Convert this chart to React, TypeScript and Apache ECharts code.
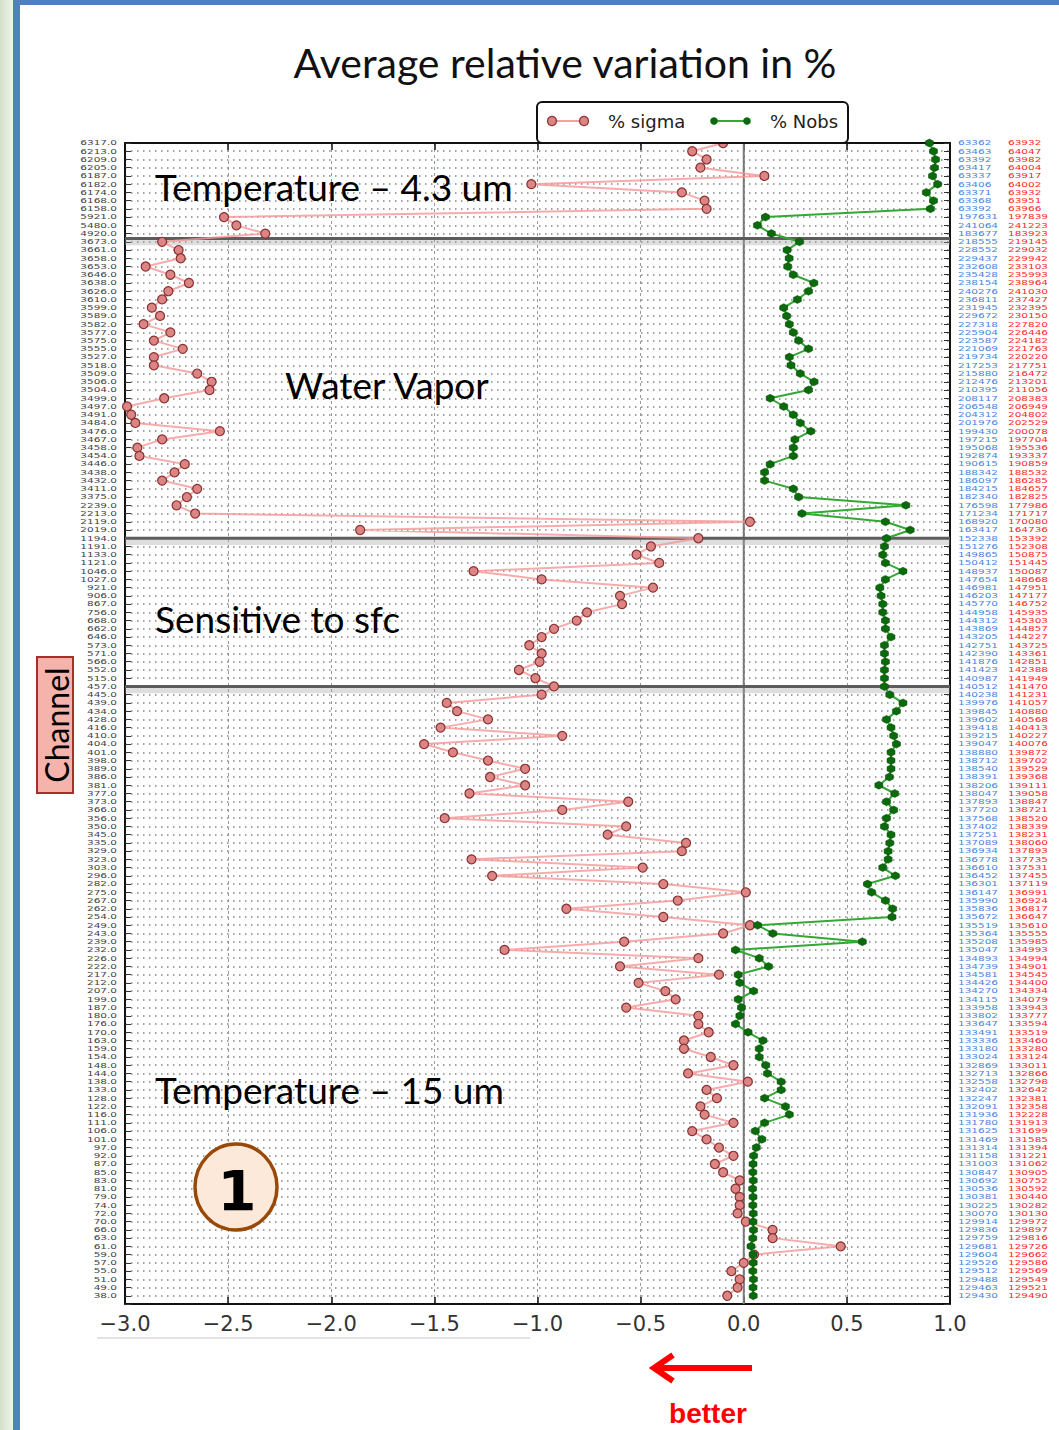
import React, { useEffect, useRef } from 'react';
import * as echarts from 'echarts';

// ---- channel numbers (top to bottom), grouped by band ----
const channelsT43 = [6317, 6213, 6209, 6205, 6187, 6182, 6174, 6168, 6158, 5921, 5480, 4920];
const channelsWV = [3673, 3661, 3658, 3653, 3646, 3638, 3626, 3610, 3599, 3589, 3582, 3577, 3575, 3555, 3527, 3518, 3509, 3506,
  3504, 3499, 3497, 3491, 3484, 3476, 3467, 3458, 3454, 3446, 3438, 3432, 3411, 3375, 2239, 2213, 2119, 2019];
const channelsSfc = [1194, 1191, 1133, 1121, 1046, 1027, 921, 906, 867, 756, 668, 662, 646, 573, 571, 566, 552, 515];
const channelsT15 = [457, 445, 439, 434, 428, 416, 410, 404, 401, 398, 389, 386, 381, 377, 373, 366, 356, 350, 345, 335,
  329, 323, 303, 296, 282, 275, 267, 262, 254, 249, 243, 239, 232, 226, 222, 217, 212, 207, 199, 187,
  180, 176, 170, 163, 159, 154, 148, 144, 138, 133, 128, 122, 116, 111, 106, 101, 97, 92, 87, 85,
  83, 81, 79, 74, 72, 70, 66, 63, 61, 59, 57, 55, 51, 49, 38];
const channels = [...channelsT43, ...channelsWV, ...channelsSfc, ...channelsT15];

// ---- % sigma (top to bottom) ----
const sigma = [
  -0.10, -0.25, -0.18, -0.21, 0.10, -1.03, -0.30, -0.19, -0.18, -2.52, -2.46, -2.32,
  -2.82, -2.74, -2.73, -2.90, -2.78, -2.69, -2.79, -2.82, -2.87, -2.83, -2.91, -2.78, -2.86, -2.72, -2.86, -2.86,
  -2.65, -2.58, -2.59, -2.81, -2.99, -2.97, -2.95, -2.54, -2.82, -2.94, -2.93, -2.71, -2.76, -2.82, -2.65, -2.70,
  -2.75, -2.66, 0.03, -1.86,
  -0.22, -0.45, -0.52, -0.41, -1.31, -0.98, -0.44, -0.60, -0.59, -0.76, -0.81, -0.92, -0.98, -1.04, -0.98, -0.99,
  -1.09, -1.01,
  -0.92, -0.98, -1.44, -1.39, -1.24, -1.47, -0.88, -1.55, -1.41, -1.24, -1.06, -1.23, -1.06, -1.33, -0.56, -0.88,
  -1.45, -0.57, -0.66, -0.28, -0.30, -1.32, -0.49, -1.22, -0.39, 0.01, -0.32, -0.86, -0.39, 0.03, -0.10, -0.58,
  -1.16, -0.22, -0.60, -0.12, -0.51, -0.38, -0.33, -0.57, -0.22, -0.22, -0.17, -0.29, -0.29, -0.16, -0.05, -0.27,
  0.02, -0.18, -0.13, -0.21, -0.19, -0.05, -0.25, -0.18, -0.12, -0.05, -0.14, -0.10, -0.02, -0.04, -0.02, -0.02,
  -0.03, 0.01, 0.14, 0.14, 0.47, 0.05, 0.00, -0.06, -0.02, -0.03, -0.08,
];

// ---- % Nobs (top to bottom) ----
const nobs = [
  0.90, 0.92, 0.93, 0.925, 0.915, 0.94, 0.885, 0.92, 0.905, 0.105, 0.066, 0.134,
  0.27, 0.21, 0.22, 0.213, 0.24, 0.34, 0.314, 0.26, 0.194, 0.208, 0.221, 0.24, 0.266, 0.314, 0.221, 0.229,
  0.274, 0.341, 0.314, 0.128, 0.194, 0.24, 0.274, 0.325, 0.248, 0.24, 0.24, 0.128, 0.101, 0.101, 0.24, 0.266,
  0.786, 0.282, 0.687, 0.807,
  0.692, 0.682, 0.674, 0.687, 0.772, 0.687, 0.66, 0.666, 0.674, 0.674, 0.687, 0.687, 0.714, 0.682, 0.682, 0.687,
  0.682, 0.682,
  0.682, 0.708, 0.772, 0.74, 0.692, 0.714, 0.727, 0.74, 0.714, 0.714, 0.714, 0.706, 0.655, 0.732, 0.692, 0.727,
  0.692, 0.682, 0.714, 0.708, 0.70, 0.70, 0.674, 0.735, 0.60, 0.62, 0.687, 0.722, 0.719, 0.067, 0.141, 0.575,
  -0.04, 0.075, 0.12, -0.027, -0.019, 0.048, -0.027, -0.011, -0.019, -0.04, 0.021, 0.093, 0.075, 0.075, 0.107, 0.115,
  0.181, 0.181, 0.101, 0.202, 0.221, 0.101, 0.056, 0.088, 0.061, 0.048, 0.045, 0.044, 0.046, 0.043, 0.045, 0.044,
  0.046, 0.045, 0.047, 0.044, 0.035, 0.045, 0.046, 0.044, 0.047, 0.045, 0.046,
];

// ---- number of observations, control run (blue column) ----
const countCtl = [
  63362, 63463, 63392, 63417, 63337, 63406, 63371, 63368, 63392, 197631, 241064, 183677,
  218555, 228552, 229437, 232608, 235428, 238154, 240276, 236811, 231945, 229672, 227318, 225904, 223587, 221069,
  219734, 217253, 215880, 212476, 210395, 208117, 206548, 204312, 201976, 199430, 197215, 195068, 192874, 190615,
  188342, 186097, 184215, 182340, 176598, 171234, 168920, 163417,
  152338, 151276, 149865, 150412, 148937, 147654, 146981, 146203, 145770, 144958, 144312, 143869, 143205, 142751,
  142390, 141876, 141423, 140987,
  140512, 140238, 139976, 139845, 139602, 139418, 139215, 139047, 138880, 138712, 138540, 138391, 138206, 138047,
  137893, 137720, 137568, 137402, 137251, 137089, 136934, 136778, 136610, 136452, 136301, 136147, 135990, 135836,
  135672, 135519, 135364, 135208, 135047, 134893, 134739, 134581, 134426, 134270, 134115, 133958, 133802, 133647,
  133491, 133336, 133180, 133024, 132869, 132713, 132558, 132402, 132247, 132091, 131936, 131780, 131625, 131469,
  131314, 131158, 131003, 130847, 130692, 130536, 130381, 130225, 130070, 129914, 129836, 129759, 129681, 129604,
  129526, 129512, 129488, 129463, 129430,
];
// experiment column: control count scaled by the plotted % Nobs
const countExp = countCtl.map((c, i) => Math.round(c * (1 + nobs[i] / 100)));

// section separators (row positions)
const sectionBreaks = [11.6, 48, 66];
const xTicks = { min: -3, max: 1, step: 0.5 };

const N = channels.length;

const fmtX = (v: number) => (v < 0 ? '\u2212' : '') + Math.abs(v).toFixed(1);

export default function App() {
  const ref = useRef<HTMLDivElement>(null);
  useEffect(() => {
    document.body.style.margin = '0';
    const chart = echarts.init(ref.current!, undefined, { renderer: 'svg' });

    const axisLineStyle = { color: '#111', width: 2 };
    const helperSeries: any[] = [];
    helperSeries.push({
      type: 'line', data: [[0, 0], [0, N]], symbol: 'none', silent: true, z: 1,
      lineStyle: { color: '#7a7a7a', width: 2 },
    });
    sectionBreaks.forEach((b) => {
      helperSeries.push({
        type: 'line', data: [[xTicks.min, b + 0.45], [xTicks.max, b + 0.45]], symbol: 'none', silent: true, z: 1,
        lineStyle: { color: 'rgba(160,160,160,0.35)', width: 6 },
      });
      helperSeries.push({
        type: 'line', data: [[xTicks.min, b], [xTicks.max, b]], symbol: 'none', silent: true, z: 1,
        lineStyle: { color: '#5c5c5c', width: 3 },
      });
    });

    const annFont = '37px Lato';
    const vm = { verticalAlign: 'middle', textVerticalAlign: 'middle' };
    const baseGraphic: any[] = [
      {
        type: 'rect', silent: true, z: 0, shape: { x: 0, y: 0, width: 13, height: 1430 },
        style: {
          fill: new echarts.graphic.LinearGradient(0, 0, 1, 0, [
            { offset: 0, color: '#d3e0cb' }, { offset: 1, color: '#eef3ea' },
          ]),
        },
      },
      { type: 'rect', silent: true, z: 0, shape: { x: 13, y: 0, width: 7, height: 1430 }, style: { fill: '#4f81bd' } },
      { type: 'rect', silent: true, z: 0, shape: { x: 13, y: 0, width: 1046, height: 5 }, style: { fill: '#4f81bd' } },
      {
        type: 'text', x: 565, y: 62, z: 10,
        style: { text: 'Average relative variation in %', font: '41px Lato', fill: '#111', align: 'center', textAlign: 'center', ...vm },
      },
      { type: 'rect', z: 50, shape: { x: 537, y: 102, width: 311, height: 41, r: 5 }, style: { fill: '#fff', stroke: '#111', lineWidth: 2 } },
      { type: 'line', z: 51, shape: { x1: 552, y1: 121, x2: 584, y2: 121 }, style: { stroke: 'rgba(246,150,150,0.9)', lineWidth: 2 } },
      { type: 'circle', z: 52, shape: { cx: 552, cy: 121, r: 4.5 }, style: { fill: '#dc8585', stroke: '#8a3030', lineWidth: 1.2 } },
      { type: 'circle', z: 52, shape: { cx: 584, cy: 121, r: 4.5 }, style: { fill: '#dc8585', stroke: '#8a3030', lineWidth: 1.2 } },
      { type: 'text', x: 608, y: 121, z: 52, style: { text: '% sigma', font: '18px "DejaVu Sans"', fill: '#222', align: 'left', ...vm } },
      { type: 'line', z: 51, shape: { x1: 714, y1: 121, x2: 747, y2: 121 }, style: { stroke: '#33a833', lineWidth: 2 } },
      { type: 'circle', z: 52, shape: { cx: 714, cy: 121, r: 3.8 }, style: { fill: '#0b6a0b' } },
      { type: 'circle', z: 52, shape: { cx: 747, cy: 121, r: 3.8 }, style: { fill: '#0b6a0b' } },
      { type: 'text', x: 770, y: 121, z: 52, style: { text: '% Nobs', font: '18px "DejaVu Sans"', fill: '#222', align: 'left', ...vm } },
      { type: 'text', x: 155, y: 186, z: 60, style: { text: 'Temperature \u2013 4.3 um', font: annFont, fill: '#000', ...vm } },
      { type: 'text', x: 285, y: 384, z: 60, style: { text: 'Water Vapor', font: annFont, fill: '#000', ...vm } },
      { type: 'text', x: 155, y: 618, z: 60, style: { text: 'Sensitive to sfc', font: annFont, fill: '#000', ...vm } },
      { type: 'text', x: 155, y: 1089, z: 60, style: { text: 'Temperature \u2013 15 um', font: annFont, fill: '#000', ...vm } },
      { type: 'ellipse', z: 60, shape: { cx: 236, cy: 1187, rx: 41, ry: 43 }, style: { fill: '#fde9d9', stroke: '#984807', lineWidth: 3.5 } },
      { type: 'text', x: 237, y: 1190, z: 61, style: { text: '1', font: 'bold 56px "DejaVu Sans"', fill: '#000', align: 'center', textAlign: 'center', ...vm } },
      { type: 'rect', z: 60, shape: { x: 37, y: 657, width: 36, height: 136 }, style: { fill: '#f4b4ac', stroke: '#a3302a', lineWidth: 2 } },
      {
        type: 'text', x: 56, y: 725, rotation: Math.PI / 2, z: 61,
        style: { text: 'Channel', font: '32px Lato', fill: '#000', align: 'center', textAlign: 'center', ...vm },
      },
      { type: 'line', z: 5, shape: { x1: 97, y1: 1338, x2: 530, y2: 1338 }, style: { stroke: '#e2e2e2', lineWidth: 2 } },
      { type: 'line', z: 60, shape: { x1: 658, y1: 1368, x2: 752, y2: 1368 }, style: { stroke: '#ff0000', lineWidth: 6 } },
      { type: 'polyline', z: 60, shape: { points: [[673, 1355], [654, 1368], [673, 1381]] }, style: { stroke: '#ff0000', lineWidth: 6, fill: 'none' } },
      { type: 'text', x: 708, y: 1413, z: 60, style: { text: 'better', font: 'bold 28px "Liberation Sans"', fill: '#ff0000', align: 'center', textAlign: 'center', ...vm } },
    ];

    const option: any = {
      animation: false,
      backgroundColor: '#ffffff',
      grid: { left: 125, top: 143, width: 825, height: 1161, containLabel: false },
      xAxis: [
        {
          type: 'value', min: xTicks.min, max: xTicks.max, interval: xTicks.step, position: 'bottom',
          axisLine: { show: true, onZero: false, lineStyle: axisLineStyle },
          axisTick: { show: true, inside: true, length: 7, lineStyle: { color: '#111', width: 1.5 } },
          axisLabel: { formatter: fmtX, fontSize: 21, fontFamily: 'DejaVu Sans', color: '#333', margin: 9 },
          splitLine: { show: true, lineStyle: { color: '#9a9a9a', type: [3, 3], width: 1 } },
        },
        {
          type: 'value', min: xTicks.min, max: xTicks.max, interval: xTicks.step, position: 'top',
          axisLine: { show: true, onZero: false, lineStyle: axisLineStyle },
          axisTick: { show: true, inside: true, length: 7, lineStyle: { color: '#111', width: 1.5 } },
          axisLabel: { show: false }, splitLine: { show: false },
        },
      ],
      yAxis: [
        {
          type: 'value', inverse: true, min: 0, max: N, interval: 1, position: 'left',
          axisLine: { show: true, onZero: false, lineStyle: axisLineStyle },
          axisTick: { show: true, inside: true, length: 6, lineStyle: { color: '#333', width: 1 } },
          axisLabel: { show: false },
          splitLine: { show: true, lineStyle: { color: '#858585', type: [1.5, 4.5], width: 1.5 } },
        },
        {
          type: 'value', inverse: true, min: 0, max: N, interval: 1, position: 'right',
          axisLine: { show: true, onZero: false, lineStyle: axisLineStyle },
          axisTick: { show: true, inside: true, length: 6, lineStyle: { color: '#333', width: 1 } },
          axisLabel: { show: false },
          splitLine: { show: false },
        },
      ],
      series: [
        ...helperSeries,
        {
          type: 'line', name: '% sigma', data: sigma.map((v, i) => [v, i]),
          symbol: 'circle', symbolSize: 9, z: 3,
          lineStyle: { color: 'rgba(246,150,150,0.8)', width: 2 },
          itemStyle: { color: '#dc8585', borderColor: '#8a3030', borderWidth: 1.2 },
        },
        {
          type: 'line', name: '% Nobs', data: nobs.map((v, i) => [v, i]),
          symbol: 'path://M0,-10 L8.66,-5 L8.66,5 L0,10 L-8.66,5 L-8.66,-5Z', symbolSize: 8, z: 4,
          lineStyle: { color: '#33a833', width: 2 },
          itemStyle: { color: '#0b6a0b', borderColor: '#064806', borderWidth: 0.5 },
        },
      ],
      graphic: baseGraphic,
    };
    chart.setOption(option);

    // row labels placed through the y axis scale (squeezed wide text like the original)
    const labelFont = '7px "DejaVu Sans"';
    const rowLabels: any[] = [];
    channels.forEach((ch, i) => {
      const y = chart.convertToPixel({ yAxisIndex: 0 }, i) as number;
      rowLabels.push({
        type: 'text', x: 117, y, scaleX: 1.5, z: 20,
        style: { text: ch.toFixed(1), font: labelFont, fill: '#444', align: 'right', textAlign: 'right', ...vm },
      });
      rowLabels.push({
        type: 'text', x: 958, y, scaleX: 1.5, z: 20,
        style: { text: String(countCtl[i]), font: labelFont, fill: '#4a86e0', align: 'left', textAlign: 'left', ...vm },
      });
      rowLabels.push({
        type: 'text', x: 1008, y, scaleX: 1.5, z: 20,
        style: { text: String(countExp[i]), font: labelFont, fill: '#ff2a2a', align: 'left', textAlign: 'left', ...vm },
      });
    });
    chart.setOption({ graphic: [...baseGraphic, ...rowLabels] });

    return () => chart.dispose();
  }, []);
  return <div ref={ref} style={{ width: 1059, height: 1430 }} />;
}
